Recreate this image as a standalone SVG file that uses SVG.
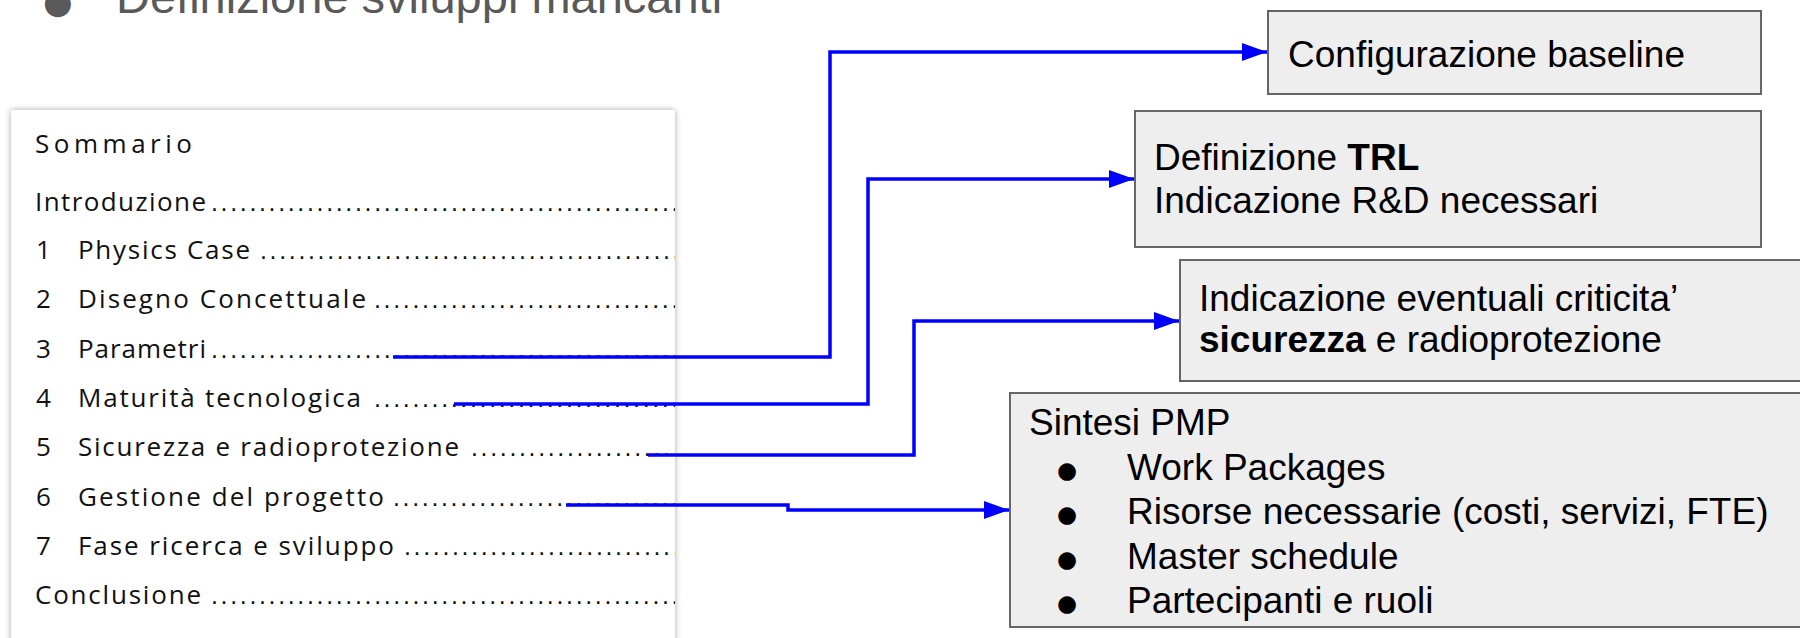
<svg xmlns="http://www.w3.org/2000/svg" width="1800" height="638" viewBox="0 0 1800 638">
  <style>
    .toc { font-family: "Open Sans", "Liberation Sans", sans-serif; font-size: 26px; fill: #111; }
    .dots { font-family: "Liberation Sans", Arial, sans-serif; font-size: 25px; fill: #111; letter-spacing: 2.65px; }
    .box { fill: #eeeeee; stroke: #666666; stroke-width: 2; }
    .bt { font-family: "Liberation Sans", Arial, sans-serif; font-size: 37px; fill: #000; }
    .bul { font-family: "DejaVu Sans", sans-serif; font-size: 23px; fill: #000; }
    .conn { fill: none; stroke: #0000ff; stroke-width: 3.5; stroke-linejoin: miter; }
  </style>
  <defs>
    <marker id="arr" markerUnits="userSpaceOnUse" markerWidth="26" markerHeight="20" refX="25" refY="9" orient="auto">
      <path d="M0,0 L25,9 L0,18 Z" fill="#0000ff"/>
    </marker>
    <filter id="shadow" x="-5%" y="-5%" width="110%" height="110%">
      <feGaussianBlur in="SourceAlpha" stdDeviation="3"/>
      <feOffset dx="0" dy="0" result="b"/>
      <feComponentTransfer><feFuncA type="linear" slope="0.35"/></feComponentTransfer>
      <feMerge><feMergeNode/><feMergeNode in="SourceGraphic"/></feMerge>
    </filter>
    <clipPath id="panelClip"><rect x="11" y="110" width="664" height="540"/></clipPath>
  </defs>

  <rect width="1800" height="638" fill="#ffffff"/>

  <g id="title">
    <text x="43" y="13" font-family="DejaVu Sans, sans-serif" font-size="34" fill="#595959">●</text>
    <text x="116" y="13" font-family="Liberation Sans, Arial, sans-serif" font-size="47" fill="#595959">Definizione sviluppi mancanti</text>
  </g>

  <g id="sommario">
    <rect x="11" y="110" width="664" height="560" fill="#ffffff" filter="url(#shadow)"/>
    <g clip-path="url(#panelClip)">
      <text class="toc" x="35" y="153" font-size="27" textLength="157" lengthAdjust="spacing">Sommario</text>

      <text class="toc" x="35" y="211" textLength="171" lengthAdjust="spacing">Introduzione</text>
      <text class="dots" x="211" y="211">..................................................</text>

      <text class="toc" x="36" y="259">1</text>
      <text class="toc" x="78" y="259" textLength="172" lengthAdjust="spacing">Physics Case</text>
      <text class="dots" x="260" y="259">..................................................</text>

      <text class="toc" x="36" y="308">2</text>
      <text class="toc" x="78" y="308" textLength="288" lengthAdjust="spacing">Disegno Concettuale</text>
      <text class="dots" x="374" y="308">..................................................</text>

      <text class="toc" x="36" y="358">3</text>
      <text class="toc" x="78" y="358" textLength="128" lengthAdjust="spacing">Parametri</text>
      <text class="dots" x="211" y="358">..................................................</text>

      <text class="toc" x="36" y="407">4</text>
      <text class="toc" x="78" y="407" textLength="283" lengthAdjust="spacing">Maturità tecnologica</text>
      <text class="dots" x="374" y="407">..................................................</text>

      <text class="toc" x="36" y="456">5</text>
      <text class="toc" x="78" y="456" textLength="381" lengthAdjust="spacing">Sicurezza e radioprotezione</text>
      <text class="dots" x="471" y="456">..................................................</text>

      <text class="toc" x="36" y="506">6</text>
      <text class="toc" x="78" y="506" textLength="306" lengthAdjust="spacing">Gestione del progetto</text>
      <text class="dots" x="393" y="506">..................................................</text>

      <text class="toc" x="36" y="555">7</text>
      <text class="toc" x="78" y="555" textLength="316" lengthAdjust="spacing">Fase ricerca e sviluppo</text>
      <text class="dots" x="404" y="555">..................................................</text>

      <text class="toc" x="35" y="604" textLength="166" lengthAdjust="spacing">Conclusione</text>
      <text class="dots" x="211" y="604">..................................................</text>
    </g>
  </g>

  <g id="box-baseline">
    <rect class="box" x="1268" y="11" width="493" height="83"/>
    <text class="bt" x="1288" y="67">Configurazione baseline</text>
  </g>

  <g id="box-trl">
    <rect class="box" x="1135" y="111" width="626" height="136"/>
    <text class="bt" x="1154" y="170">Definizione <tspan font-weight="bold">TRL</tspan></text>
    <text class="bt" x="1154" y="213">Indicazione R&amp;D necessari</text>
  </g>

  <g id="box-sicurezza">
    <rect class="box" x="1180" y="260" width="640" height="121"/>
    <text class="bt" x="1199" y="311">Indicazione eventuali criticita’</text>
    <text class="bt" x="1199" y="352"><tspan font-weight="bold">sicurezza</tspan> e radioprotezione</text>
  </g>

  <g id="box-pmp">
    <rect class="box" x="1010" y="393" width="810" height="234"/>
    <text class="bt" x="1029" y="435">Sintesi PMP</text>
    <text class="bul" x="1057" y="478">●</text>
    <text class="bt" x="1127" y="480">Work Packages</text>
    <text class="bul" x="1057" y="522">●</text>
    <text class="bt" x="1127" y="524">Risorse necessarie (costi, servizi, FTE)</text>
    <text class="bul" x="1057" y="567">●</text>
    <text class="bt" x="1127" y="569">Master schedule</text>
    <text class="bul" x="1057" y="611">●</text>
    <text class="bt" x="1127" y="613">Partecipanti e ruoli</text>
  </g>

  <g id="connectors">
    <path class="conn" d="M393,357 H830 V52 H1267" marker-end="url(#arr)"/>
    <path class="conn" d="M454,404 H868 V179 H1134" marker-end="url(#arr)"/>
    <path class="conn" d="M648,455 H914 V321 H1179" marker-end="url(#arr)"/>
    <path class="conn" d="M566,505 H788 V510 H1009" marker-end="url(#arr)"/>
  </g>
</svg>
